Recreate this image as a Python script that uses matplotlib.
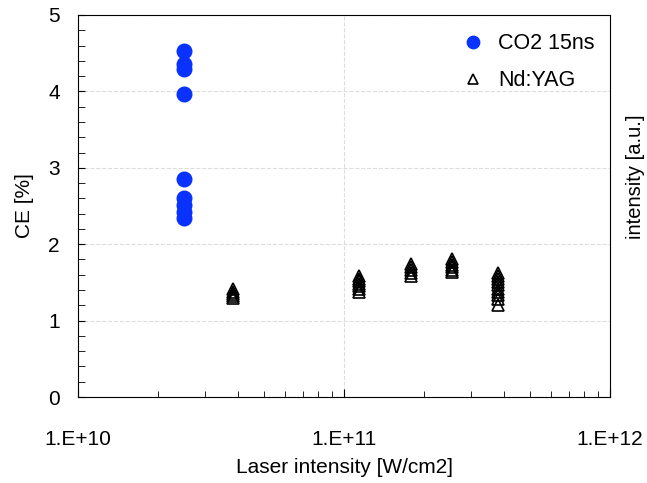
import numpy as np
import matplotlib.pyplot as plt

plt.rcParams['font.family'] = ['Liberation Sans', 'DejaVu Sans']
plt.rcParams['xtick.direction'] = 'in'
plt.rcParams['ytick.direction'] = 'in'

# CO2 15ns laser
co2_x = [2.5e10] * 9
co2_ce = [4.53, 4.36, 4.29, 3.96, 2.85, 2.60, 2.51, 2.42, 2.34]

# Nd:YAG laser
yag_x = ([3.83e10] * 5 + [1.14e11] * 7 + [1.78e11] * 5
         + [2.54e11] * 6 + [3.79e11] * 10)
yag_ce = [1.41, 1.38, 1.35, 1.32, 1.30,
          1.58, 1.55, 1.52, 1.48, 1.45, 1.41, 1.38,
          1.74, 1.70, 1.66, 1.62, 1.59,
          1.80, 1.77, 1.73, 1.70, 1.66, 1.63,
          1.62, 1.58, 1.54, 1.50, 1.46, 1.42, 1.38, 1.33, 1.28, 1.20]

fig = plt.figure(figsize=(6.47, 4.83), dpi=100)
ax = fig.add_axes([0.1206, 0.178, 0.8224, 0.791])

ax.plot(co2_x, co2_ce, 'o', color='#0a32ff', markersize=10.5, linestyle='none',
        label='CO2 15ns')
ax.plot(yag_x, yag_ce, '^', markerfacecolor='none', markeredgecolor='black',
        markeredgewidth=1.2, markersize=9, linestyle='none', label='Nd:YAG')

ax.set_xscale('log')
ax.set_xlim(1e10, 1e12)
ax.set_ylim(0, 5)
ax.set_xticks([1e10, 1e11, 1e12])
ax.set_xticklabels(['1.E+10', '1.E+11', '1.E+12'])
ax.set_yticks([0, 1, 2, 3, 4, 5])
ax.set_yticks(np.arange(0, 5.01, 0.2), minor=True)
ax.tick_params(axis='x', which='major', length=6, pad=24, labelsize=15)
ax.tick_params(axis='x', which='minor', length=4)
ax.tick_params(axis='y', which='both', length=5, pad=13, labelsize=15)
ax.tick_params(axis='y', which='minor', length=5)

ax.grid(True, which='major', color='#dddddd', linestyle='--', linewidth=0.8)
ax.set_axisbelow(True)

ax.set_xlabel('Laser intensity [W/cm2]', fontsize=15, labelpad=6)
ax.set_ylabel('CE [%]', fontsize=15, labelpad=10)

fig.text(0.982, 0.634, 'intensity [a.u.]', rotation=90, ha='center', va='center',
         fontsize=14.5)

ax.legend(loc='upper right', frameon=False, fontsize=15.5, handletextpad=0.15,
          borderaxespad=0.45, labelspacing=0.75, bbox_to_anchor=(1.005, 1.0),
          markerscale=0.85)

fig.savefig('out.png', dpi=100)
